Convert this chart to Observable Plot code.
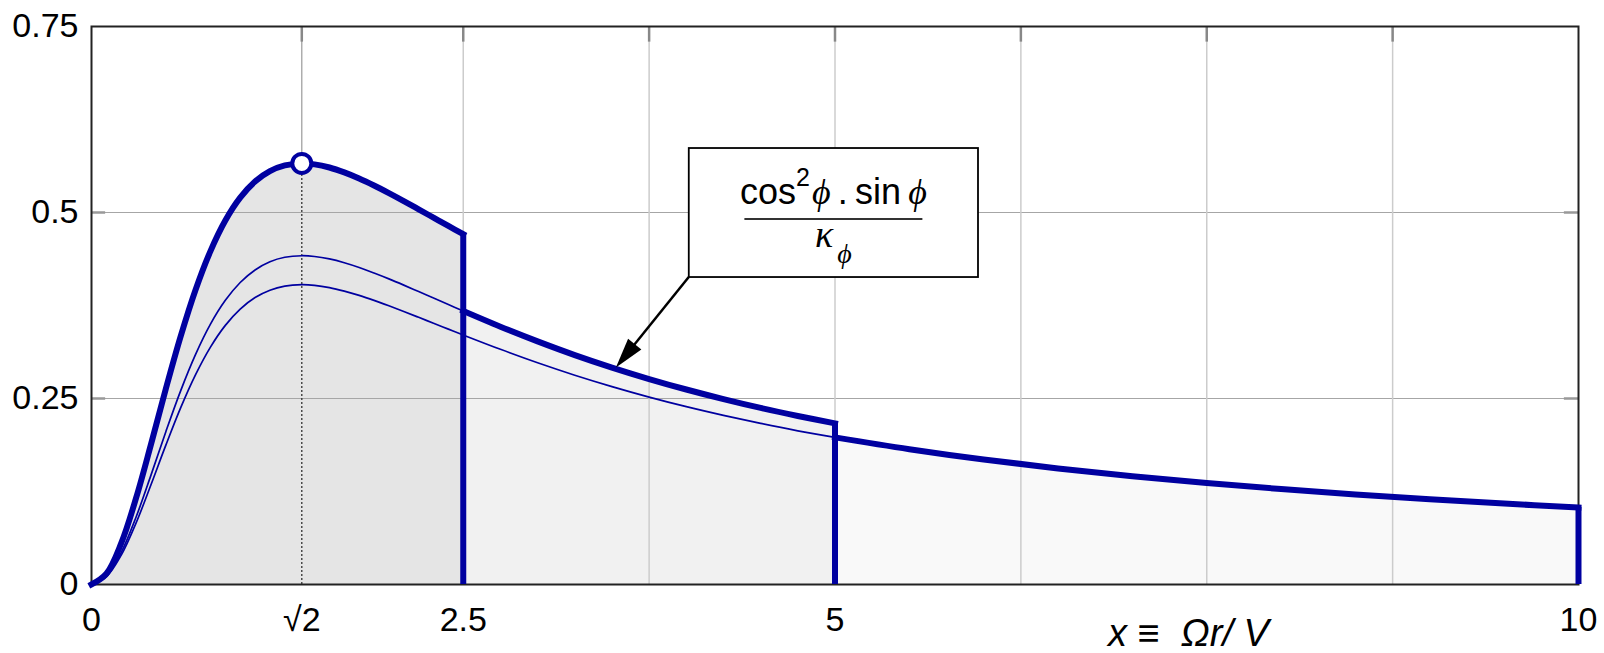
<!DOCTYPE html>
<html><head><meta charset="utf-8">
<script src="https://cdn.jsdelivr.net/npm/d3@7"></script>
<script src="https://cdn.jsdelivr.net/npm/@observablehq/plot@0.6"></script>
<style>html,body{margin:0;padding:0;background:#fff;}</style>
</head><body><div id="chart"></div>
<script>
// ---- data ----
const SQRT2 = 1.41421;
const x1 = [0, 0.1, 0.2, 0.3, 0.4, 0.5, 0.6, 0.7, 0.8, 0.9, 1.0, 1.1, 1.2, 1.3, SQRT2, 1.5, 1.6, 1.7, 1.8, 1.9, 2.0, 2.1, 2.2, 2.3, 2.4, 2.5];
const yA1 = [0, 0.0145, 0.0555, 0.1163, 0.1883, 0.2631, 0.3338, 0.3962, 0.4481, 0.4892, 0.5199, 0.5416, 0.5556, 0.5633, 0.5660, 0.5647, 0.5605, 0.5539, 0.5457, 0.5363, 0.5261, 0.5154, 0.5043, 0.4931, 0.4819, 0.4708];
const yB1 = [0, 0.0113, 0.0433, 0.0908, 0.1470, 0.2054, 0.2606, 0.3093, 0.3499, 0.3819, 0.4059, 0.4228, 0.4338, 0.4398, 0.4419, 0.4409, 0.4376, 0.4325, 0.4261, 0.4187, 0.4108, 0.4024, 0.3937, 0.3850, 0.3763, 0.3676];
const yC1 = [0, 0.0103, 0.0395, 0.0828, 0.1341, 0.1873, 0.2377, 0.2821, 0.3191, 0.3483, 0.3702, 0.3857, 0.3956, 0.4011, 0.4030, 0.4021, 0.3991, 0.3944, 0.3886, 0.3819, 0.3746, 0.3670, 0.3591, 0.3511, 0.3432, 0.3353];

const x2 = [2.5, 2.75, 3, 3.25, 3.5, 3.75, 4, 4.25, 4.5, 4.75, 5];
const yB2 = [0.3676, 0.3465, 0.3268, 0.3084, 0.2916, 0.2762, 0.2621, 0.2492, 0.2373, 0.2265, 0.2165];
const yC2 = [0.3353, 0.3161, 0.2980, 0.2813, 0.2660, 0.2519, 0.2390, 0.2273, 0.2165, 0.2066, 0.1978];

const x3 = [5, 5.5, 6, 6.5, 7, 7.5, 8, 8.5, 9, 9.5, 10];
const yC3 = [0.1978, 0.1819, 0.1680, 0.1560, 0.1456, 0.1364, 0.1283, 0.1211, 0.1146, 0.1088, 0.1035];

const xGrid = [2.5, 3.75, 5, 6.25, 7.5, 8.75];
const yGrid = [0.25, 0.5];
const xTicks = [0, SQRT2, 2.5, 5, 10];
const xTickLabels = ["0", "\u221A2", "2.5", "5", "10"];
const yTicks = [0, 0.25, 0.5, 0.75];
const yTickLabels = ["0", "0.25", "0.5", "0.75"];
const xAxisLabel = "x \u2261  \u03A9r/ V";

// annotation (data units)
const boxX1 = 4.02, boxX2 = 5.965, boxYTop = 0.586, boxYBottom = 0.4126;
const arrowTip = [3.53, 0.291];
const xLabelPos = 7.38;

// ---- build tables ----
const seg1 = x1.map((x, i) => ({x, a: yA1[i], b: yB1[i], c: yC1[i]}));
const seg2 = x2.map((x, i) => ({x, b: yB2[i], c: yC2[i]}));
const seg3 = x3.map((x, i) => ({x, c: yC3[i]}));
const iPeak = yA1.indexOf(d3.max(yA1));
const peak = {x: x1[iPeak], y: yA1[iPeak]};

const blue = "#0000a0";
const curve = "catmull-rom";
const font = "'Liberation Sans', Arial, sans-serif";
const tickFont = 34;

const chart = Plot.plot({
  width: 1604, height: 653,
  marginLeft: 91, marginRight: 26, marginTop: 26, marginBottom: 69,
  style: {fontFamily: font, fontSize: tickFont + "px", color: "#000", background: "#fff"},
  x: {domain: [0, 10], label: null},
  y: {domain: [0, 0.75], label: null},
  marks: [
    Plot.areaY(seg1, {x: "x", y: "a", fill: "#e5e5e5", curve}),
    Plot.areaY(seg2, {x: "x", y: "b", fill: "#f1f1f1", curve}),
    Plot.areaY(seg3, {x: "x", y: "c", fill: "#f9f9f9", curve}),
    Plot.ruleY(yGrid, {stroke: "#a6a6a6", strokeWidth: 1.2}),
    Plot.ruleX(xGrid, {stroke: "#cccccc", strokeWidth: 1.5}),
    Plot.ruleX([peak.x], {y1: peak.y, y2: 0.75, stroke: "#9a9a9a", strokeWidth: 1.2}),
    Plot.ruleX([peak.x], {y1: 0, y2: peak.y, stroke: "#333", strokeWidth: 1.3, strokeDasharray: "2,2"}),
    Plot.ruleX(xGrid.concat([peak.x]), {y1: 0.75, y2: 0.729, stroke: "#888", strokeWidth: 2.5}),
    Plot.ruleY(yGrid, {x1: 0, x2: 0.095, stroke: "#999", strokeWidth: 2.5}),
    Plot.ruleY(yGrid, {x1: 9.905, x2: 10, stroke: "#999", strokeWidth: 2.5}),
    Plot.frame({stroke: "#222", strokeWidth: 2}),
    Plot.line(seg1, {x: "x", y: "b", stroke: blue, strokeWidth: 1.7, curve}),
    Plot.line(seg1.concat(seg2.slice(1)), {x: "x", y: "c", stroke: blue, strokeWidth: 1.7, curve}),
    Plot.line(seg1, {x: "x", y: "a", stroke: blue, strokeWidth: 6, curve, strokeLinecap: "square"}),
    Plot.line(seg2, {x: "x", y: "b", stroke: blue, strokeWidth: 6, curve, strokeLinecap: "square"}),
    Plot.line(seg3, {x: "x", y: "c", stroke: blue, strokeWidth: 6, curve, strokeLinecap: "square"}),
    Plot.ruleX([x1[x1.length - 1]], {y1: 0, y2: yA1[yA1.length - 1], stroke: blue, strokeWidth: 6}),
    Plot.ruleX([x2[x2.length - 1]], {y1: 0, y2: yB2[yB2.length - 1], stroke: blue, strokeWidth: 6}),
    Plot.ruleX([x3[x3.length - 1]], {y1: 0, y2: yC3[yC3.length - 1], stroke: blue, strokeWidth: 6}),
    Plot.dot([peak], {x: "x", y: "y", r: 9.5, fill: "white", stroke: blue, strokeWidth: 4}),
    Plot.axisX({ticks: xTicks, tickFormat: d => xTickLabels[xTicks.indexOf(d)], tickSize: 0, tickPadding: 22, fontSize: tickFont, label: null}),
    Plot.axisY({ticks: yTicks, tickFormat: d => yTickLabels[yTicks.indexOf(d)], tickSize: 0, tickPadding: 13, fontSize: tickFont, label: null})
  ]
});
document.getElementById("chart").appendChild(chart);

// ---- annotation and axis title through the plot's own scales ----
const sx = chart.scale("x"), sy = chart.scale("y");
const X = v => sx.apply(v), Y = v => sy.apply(v);
const svg = d3.select(chart);
const g = svg.append("g");
const bx1 = X(boxX1), bx2 = X(boxX2), by1 = Y(boxYTop), by2 = Y(boxYBottom);
const tx = X(arrowTip[0]), ty = Y(arrowTip[1]);
// arrow
const dx = tx - bx1, dy = ty - by2, len = Math.hypot(dx, dy);
const ux = dx / len, uy = dy / len, nx = -uy, ny = ux;
const L = 30, W = 8.5;
const baseX = tx - ux * L, baseY = ty - uy * L;
g.append("line").attr("x1", bx1).attr("y1", by2).attr("x2", baseX + ux * 4).attr("y2", baseY + uy * 4)
  .attr("stroke", "#000").attr("stroke-width", 2.5);
g.append("path").attr("d", `M${tx},${ty}L${baseX + nx * W},${baseY + ny * W}L${baseX - nx * W},${baseY - ny * W}Z`)
  .attr("fill", "#000");
// box
g.append("rect").attr("x", bx1).attr("y", by1).attr("width", bx2 - bx1).attr("height", by2 - by1)
  .attr("fill", "#fff").attr("stroke", "#000").attr("stroke-width", 1.8);
const cx = (bx1 + bx2) / 2;
const serif = "'Liberation Serif', 'DejaVu Serif', serif";
const num = g.append("text").attr("x", cx).attr("y", by1 + 56).attr("text-anchor", "middle")
  .attr("font-family", font).attr("font-size", 36).attr("fill", "#000");
num.append("tspan").text("cos");
num.append("tspan").attr("dy", -18).attr("font-size", 25).text("2");
num.append("tspan").attr("dy", 18).attr("dx", 2).attr("font-family", serif).attr("font-style", "italic").text("\u03D5");
num.append("tspan").text("\u2009.\u2009sin\u2009");
num.append("tspan").attr("font-family", serif).attr("font-style", "italic").text("\u03D5");
g.append("line").attr("x1", cx - 89).attr("x2", cx + 89).attr("y1", by1 + 71).attr("y2", by1 + 71)
  .attr("stroke", "#333").attr("stroke-width", 2);
const den = g.append("text").attr("x", cx).attr("y", by1 + 99).attr("text-anchor", "middle")
  .attr("font-family", serif).attr("font-style", "italic").attr("fill", "#000");
den.append("tspan").attr("font-size", 38).text("\u03BA");
den.append("tspan").attr("dx", 4).attr("dy", 16).attr("font-size", 28).text("\u03D5");
// x axis title
g.append("text").attr("x", X(xLabelPos)).attr("y", Y(0) + 62).attr("text-anchor", "middle")
  .attr("font-family", font).attr("font-style", "italic").attr("font-size", 38).attr("fill", "#000")
  .attr("xml:space", "preserve").style("white-space", "pre")
  .text(xAxisLabel);
</script>
</body></html>
